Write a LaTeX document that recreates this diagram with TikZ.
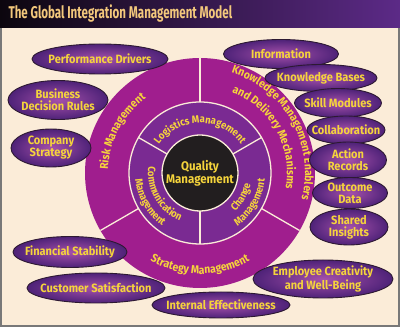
\documentclass[tikz,border=0pt]{standalone}
\usepackage{fontspec}
\setmainfont{Fira Sans}
\newfontfamily\titlefont{Fira Sans}[FakeStretch=0.68]
\newfontfamily\ovalfont{Fira Sans}[FakeStretch=0.92]
\newfontfamily\ringfont{Fira Sans}[FakeStretch=0.9]
\usetikzlibrary{shapes.geometric,decorations.text}

\definecolor{cream}{RGB}{251,236,216}
\definecolor{frame}{RGB}{120,120,120}
\definecolor{barleft}{RGB}{12,6,14}
\definecolor{barright}{RGB}{92,42,135}
\definecolor{titletan}{RGB}{243,200,124}
\definecolor{outerring}{RGB}{160,30,142}
\definecolor{midring}{RGB}{122,42,146}
\definecolor{core}{RGB}{34,30,31}
\definecolor{gold}{RGB}{245,212,60}
\definecolor{ovalin}{RGB}{165,80,170}
\definecolor{ovalout}{RGB}{78,34,120}
\definecolor{ovalline}{RGB}{45,25,50}

\tikzset{
  oval/.style={ellipse, draw=ovalline, line width=0.9pt, inner color=ovalin, outer color=ovalout, inner sep=0pt},
  ovaltext/.style={text=gold, font=\ovalfont\bfseries\fontsize{12}{12}\selectfont, align=center, inner sep=0pt},
  divider/.style={draw=cream, line width=1.3pt},
  arctext/.style={decorate, decoration={text along path, text align=center, text color=gold,
    text={|\ringfont\bfseries\fontsize{11.5}{12}\selectfont|#1}}},
  midtext/.style={decorate, decoration={text along path, text align=center, text color=gold,
    text={|\ringfont\bfseries\fontsize{10.5}{11}\selectfont|#1}}},
}

\begin{document}
\begin{tikzpicture}[x=1pt,y=1pt]
    \useasboundingbox (0,0) rectangle (400,327);
    % Background and title bar
    \fill[cream] (0,0) rectangle (400,327);
    \draw[frame, line width=2pt] (1,1) rectangle (399,326);
    \shade[left color=barleft, right color=barright] (0,299) rectangle (400,327);
    \node[anchor=west, text=titletan, font=\titlefont\bfseries\fontsize{17}{17}\selectfont] (title) at (5,313.5) {The Global Integration Management Model};
    % Rings
    \begin{scope}[shift={(200,154)}]
        \fill[outerring] (0,0) circle[radius=115];
        \filldraw[fill=midring, draw=cream, line width=1.3pt] (0,0) circle[radius=71];
        \foreach \a in {90,210,330}
            \draw[divider] (\a:71) -- (\a:115);
        \foreach \a in {30,150,270}
            \draw[divider] (\a:38) -- (\a:71);
        \node[circle, fill=core, draw=cream, line width=1.3pt, minimum size=76pt, inner sep=0pt,
            label={[ovaltext, font=\ovalfont\bfseries\fontsize{12.5}{13}\selectfont]center:{Quality\\Management}}] (quality) at (0,0) {};
        % Outer ring labels
        \path[arctext={Risk Management}] (210:92) arc[start angle=210, end angle=94, radius=92];
        \path[arctext={Knowledge Management Enablers}] (89:105) arc[start angle=89, end angle=-31, radius=105];
        \path[arctext={and Delivery Mechanisms}] (89:87) arc[start angle=89, end angle=-31, radius=87];
        \path[arctext={Strategy Management}] (225:101) arc[start angle=225, end angle=315, radius=101];
        % Middle ring labels
        \path[midtext={Logistics Management}] (160:50) arc[start angle=160, end angle=20, radius=50];
        \path[midtext={Communication}] (155:52) arc[start angle=155, end angle=265, radius=52];
        \path[midtext={Management}] (155:65) arc[start angle=155, end angle=265, radius=65];
        \path[midtext={Change}] (275:52) arc[start angle=275, end angle=385, radius=52];
        \path[midtext={Management}] (275:65) arc[start angle=275, end angle=385, radius=65];
    \end{scope}
    % Left ovals
    \node[oval, minimum width=136pt, minimum height=30pt, label={[ovaltext]center:Performance Drivers}] (perf) at (100,268) {};
    \node[oval, minimum width=100pt, minimum height=39pt, label={[ovaltext]center:{Business\\Decision Rules}}] (rules) at (58,227) {};
    \node[oval, minimum width=80pt, minimum height=38pt, label={[ovaltext]center:{Company\\Strategy}}] (company) at (51,179) {};
    % Right ovals
    \node[oval, minimum width=115pt, minimum height=29pt, label={[ovaltext]center:Information}] (info) at (281,273) {};
    \node[oval, minimum width=112pt, minimum height=27pt, label={[ovaltext]center:Knowledge Bases}] (kbases) at (321,249) {};
    \node[oval, minimum width=87pt, minimum height=29pt, label={[ovaltext]center:Skill Modules}] (skills) at (338,224) {};
    \node[oval, minimum width=78pt, minimum height=28pt, label={[ovaltext]center:Collaboration}] (collab) at (346,197) {};
    \node[oval, minimum width=77pt, minimum height=36pt, label={[ovaltext]center:{Action\\Records}}] (action) at (348,167) {};
    \node[oval, minimum width=75pt, minimum height=31pt, label={[ovaltext]center:{Outcome\\Data}}] (outcome) at (350,134) {};
    \node[oval, minimum width=78pt, minimum height=36pt, label={[ovaltext]center:{Shared\\Insights}}] (shared) at (349,100) {};
    % Bottom ovals
    \node[oval, minimum width=114pt, minimum height=31pt, label={[ovaltext]center:Financial Stability}] (finance) at (70,75) {};
    \node[oval, minimum width=138pt, minimum height=30pt, label={[ovaltext]center:Customer Satisfaction}] (customer) at (96,39) {};
    \node[oval, minimum width=140pt, minimum height=38pt, label={[ovaltext]center:{Employee Creativity\\and Well-Being}}] (employee) at (323,48) {};
    \node[oval, minimum width=138pt, minimum height=26pt, label={[ovaltext]center:Internal Effectiveness}] (internal) at (221,22) {};
\end{tikzpicture}
\end{document}
